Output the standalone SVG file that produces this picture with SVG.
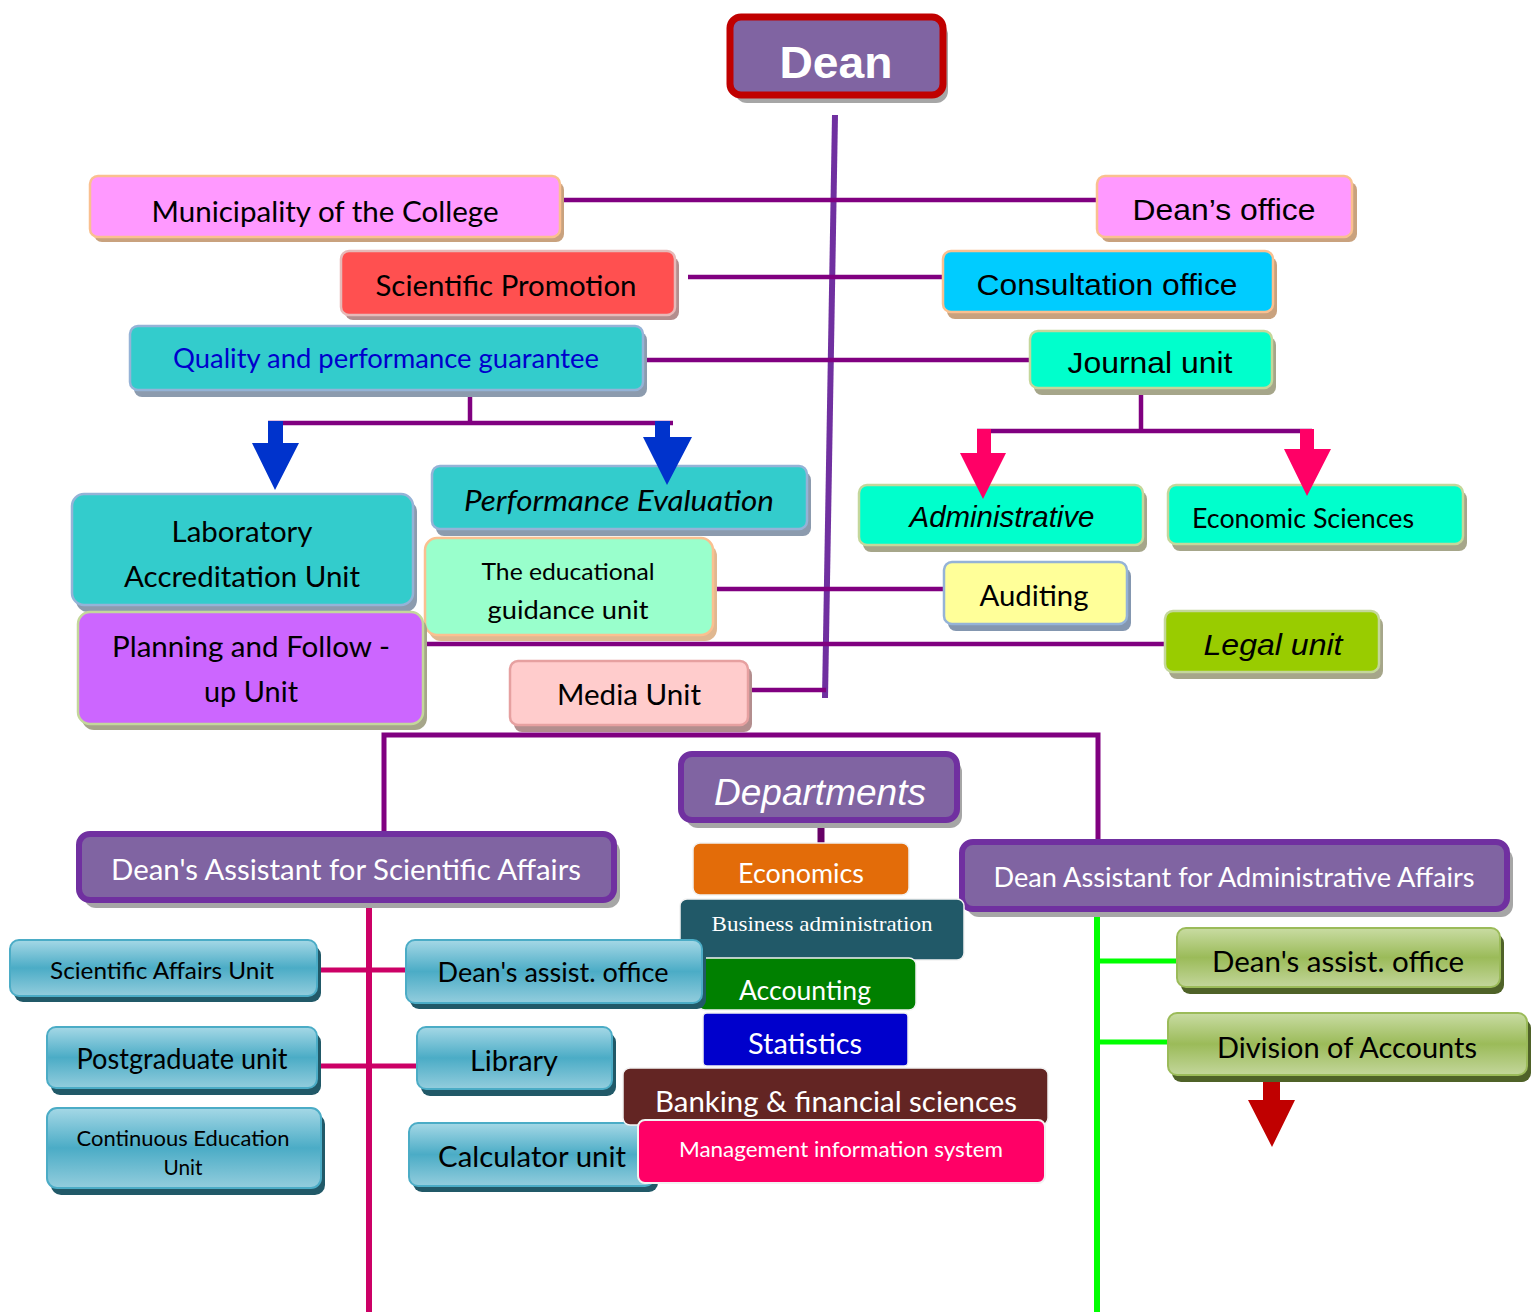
<svg xmlns="http://www.w3.org/2000/svg" width="1531" height="1312" viewBox="0 0 1531 1312">
<defs>
<linearGradient id="gBlue" x1="0" y1="0" x2="0" y2="1">
<stop offset="0" stop-color="#A5D8E6"/><stop offset="0.5" stop-color="#4BACC6"/><stop offset="1" stop-color="#93CDDD"/>
</linearGradient>
<linearGradient id="gGreen" x1="0" y1="0" x2="0" y2="1">
<stop offset="0" stop-color="#C9DCA3"/><stop offset="0.5" stop-color="#9BBB59"/><stop offset="1" stop-color="#C3D69B"/>
</linearGradient>
<style>
.t{font-family:Lato,"Open Sans","Liberation Sans",sans-serif;text-anchor:middle;fill:#000}
.a{font-family:"Liberation Sans",Arial,sans-serif;text-anchor:middle;fill:#000}
.s{font-family:"Liberation Serif","Times New Roman",serif;text-anchor:middle;fill:#fff}
.w{fill:#fff}
.c{stroke:#800080;stroke-width:4.5;fill:none}
.blue{fill:url(#gBlue);stroke:#4BACC6;stroke-width:2}
.bsh{fill:#215968}
.green{fill:url(#gGreen);stroke:#9BBB59;stroke-width:2}
.gsh{fill:#4F6228}
.pur{fill:#8064A2;stroke:#7030A0;stroke-width:6}
</style>
</defs>
<rect width="1531" height="1312" fill="#fff"/>

<g id="connectors">
<line x1="835" y1="115" x2="825" y2="698" stroke="#7030A0" stroke-width="6"/>
<line class="c" x1="562" y1="200" x2="1098" y2="200"/>
<line class="c" x1="688" y1="277" x2="944" y2="277"/>
<line class="c" x1="643" y1="360" x2="1031" y2="360"/>
<line class="c" x1="713" y1="589" x2="945" y2="589"/>
<line class="c" x1="425" y1="644" x2="1166" y2="644"/>
<line class="c" x1="750" y1="690" x2="826" y2="690"/>
<line class="c" x1="470" y1="391" x2="470" y2="423"/>
<line class="c" x1="268" y1="423" x2="673" y2="423"/>
<line class="c" x1="1141" y1="388" x2="1141" y2="431"/>
<line class="c" x1="977" y1="431" x2="1312" y2="431"/>
<polyline points="384,843 384,735 1098,735 1098,853" stroke="#800080" stroke-width="5" fill="none"/>
<line x1="821" y1="820" x2="821" y2="843" stroke="#660066" stroke-width="7"/>
<line x1="369" y1="904" x2="369" y2="1312" stroke="#CC0066" stroke-width="6"/>
<line x1="318" y1="970" x2="406" y2="970" stroke="#CC0066" stroke-width="5"/>
<line x1="318" y1="1066" x2="418" y2="1066" stroke="#CC0066" stroke-width="5"/>
<line x1="1097" y1="908" x2="1097" y2="1312" stroke="#00FF00" stroke-width="6"/>
<line x1="1097" y1="961" x2="1178" y2="961" stroke="#00FF00" stroke-width="5"/>
<line x1="1097" y1="1042" x2="1168" y2="1042" stroke="#00FF00" stroke-width="5"/>
<polygon points="1263,1082 1280,1082 1280,1100 1295,1100 1272,1147 1248,1100 1263,1100" fill="#C00000"/>
</g>

<g id="dean">
<rect x="735" y="23" width="213" height="80" rx="12" fill="#A6A6A6"/>
<rect x="730" y="17" width="213" height="78" rx="11" fill="#8064A2" stroke="#C00000" stroke-width="7"/>
<text class="a w" x="836" y="78" font-size="44" font-weight="bold" textLength="113" lengthAdjust="spacingAndGlyphs">Dean</text>
</g>

<g id="municipality">
<rect x="94" y="182" width="470" height="60" rx="8" fill="#C9A27E"/>
<rect x="90" y="176" width="470" height="61" rx="8" fill="#FF99FF" stroke="#FAC090" stroke-width="2.5"/>
<text class="t" x="325" y="222" font-size="28" textLength="347" lengthAdjust="spacingAndGlyphs">Municipality of the College</text>
</g>

<g id="deans-office">
<rect x="1101" y="182" width="256" height="60" rx="8" fill="#C9A27E"/>
<rect x="1097" y="176" width="255" height="61" rx="8" fill="#FF99FF" stroke="#FAC090" stroke-width="2.5"/>
<text class="a" x="1224" y="220" font-size="30" textLength="183" lengthAdjust="spacingAndGlyphs">Dean’s office</text>
</g>

<g id="sci-promotion">
<rect x="345" y="257" width="334" height="63" rx="8" fill="#B38E8E"/>
<rect x="341" y="251" width="334" height="64" rx="8" fill="#FF5050" stroke="#E6B9B8" stroke-width="2.5"/>
<text class="t" x="506" y="296" font-size="28" textLength="261" lengthAdjust="spacingAndGlyphs">Scientific Promotion</text>
</g>

<g id="consultation">
<rect x="947" y="257" width="330" height="62" rx="8" fill="#C9A27E"/>
<rect x="943" y="251" width="330" height="61" rx="8" fill="#00CCFF" stroke="#FAC090" stroke-width="2.5"/>
<text class="a" x="1107" y="295" font-size="30" textLength="261" lengthAdjust="spacingAndGlyphs">Consultation office</text>
</g>

<g id="quality">
<rect x="134" y="332" width="513" height="65" rx="8" fill="#8C9BAE"/>
<rect x="130" y="326" width="513" height="64" rx="8" fill="#33CCCC" stroke="#95B3D7" stroke-width="2.5"/>
<text class="t" x="386" y="368" font-size="26" style="fill:#0000CC" textLength="426" lengthAdjust="spacingAndGlyphs">Quality and performance guarantee</text>
</g>

<g id="journal">
<rect x="1034" y="337" width="242" height="58" rx="8" fill="#A6A68A"/>
<rect x="1030" y="331" width="242" height="57" rx="8" fill="#00FFCC" stroke="#C4D79B" stroke-width="2.5"/>
<text class="a" x="1150" y="373" font-size="30" textLength="165" lengthAdjust="spacingAndGlyphs">Journal unit</text>
</g>

<g id="lab-accreditation">
<rect x="76" y="500" width="341" height="112" rx="12" fill="#8C9BAE"/>
<rect x="72" y="494" width="341" height="111" rx="12" fill="#33CCCC" stroke="#95B3D7" stroke-width="2.5"/>
<text class="t" x="242" y="542" font-size="28" textLength="141" lengthAdjust="spacingAndGlyphs">Laboratory</text>
<text class="t" x="242" y="587" font-size="28" textLength="236" lengthAdjust="spacingAndGlyphs">Accreditation Unit</text>
</g>

<g id="performance-eval">
<rect x="436" y="472" width="375" height="64" rx="8" fill="#8C9BAE"/>
<rect x="432" y="466" width="375" height="63" rx="8" fill="#33CCCC" stroke="#95B3D7" stroke-width="2.5"/>
<text class="t" x="619" y="511" font-size="28" font-style="italic" textLength="310" lengthAdjust="spacingAndGlyphs">Performance Evaluation</text>
</g>

<g id="educational-guidance">
<rect x="429" y="544" width="288" height="97" rx="12" fill="#E0B890"/>
<rect x="425" y="538" width="288" height="97" rx="12" fill="#99FFCC" stroke="#FAC090" stroke-width="2.5"/>
<text class="t" x="568" y="580" font-size="23" textLength="173" lengthAdjust="spacingAndGlyphs">The educational</text>
<text class="t" x="568" y="619" font-size="25" textLength="161" lengthAdjust="spacingAndGlyphs">guidance unit</text>
</g>

<g id="planning">
<rect x="82" y="618" width="345" height="112" rx="12" fill="#A6A68A"/>
<rect x="78" y="612" width="345" height="112" rx="12" fill="#CC66FF" stroke="#C4D79B" stroke-width="2.5"/>
<text class="t" x="251" y="657" font-size="28" textLength="278" lengthAdjust="spacingAndGlyphs">Planning and Follow -</text>
<text class="t" x="251" y="702" font-size="28" textLength="94" lengthAdjust="spacingAndGlyphs">up Unit</text>
</g>

<g id="media">
<rect x="514" y="667" width="238" height="65" rx="8" fill="#B38E8E"/>
<rect x="510" y="661" width="238" height="64" rx="8" fill="#FFCCCC" stroke="#E6A0A0" stroke-width="2.5"/>
<text class="t" x="629" y="705" font-size="28" textLength="144" lengthAdjust="spacingAndGlyphs">Media Unit</text>
</g>

<g id="administrative">
<rect x="863" y="491" width="284" height="61" rx="8" fill="#A6A68A"/>
<rect x="859" y="485" width="284" height="60" rx="8" fill="#00FFCC" stroke="#C4D79B" stroke-width="2.5"/>
<text class="a" x="1002" y="527" font-size="30" font-style="italic" textLength="185" lengthAdjust="spacingAndGlyphs">Administrative</text>
</g>

<g id="economic-sciences">
<rect x="1172" y="491" width="295" height="60" rx="8" fill="#A6A68A"/>
<rect x="1168" y="485" width="295" height="59" rx="8" fill="#00FFCC" stroke="#C4D79B" stroke-width="2.5"/>
<text class="t" x="1303" y="528" font-size="26" textLength="222" lengthAdjust="spacingAndGlyphs">Economic Sciences</text>
</g>

<g id="auditing">
<rect x="948" y="568" width="183" height="63" rx="8" fill="#8497B0"/>
<rect x="944" y="562" width="183" height="62" rx="8" fill="#FFFF99" stroke="#95B3D7" stroke-width="2.5"/>
<text class="t" x="1034" y="606" font-size="28" textLength="109" lengthAdjust="spacingAndGlyphs">Auditing</text>
</g>

<g id="legal">
<rect x="1169" y="617" width="214" height="62" rx="8" fill="#A6A68A"/>
<rect x="1165" y="611" width="214" height="61" rx="8" fill="#99CC00" stroke="#C4D79B" stroke-width="2.5"/>
<text class="a" x="1273" y="655" font-size="30" font-style="italic" textLength="139" lengthAdjust="spacingAndGlyphs">Legal unit</text>
</g>

<g id="departments">
<rect x="686" y="760" width="276" height="68" rx="12" fill="#A6A6A6"/>
<rect class="pur" x="681" y="754" width="276" height="66" rx="11"/>
<text class="a w" x="820" y="805" font-size="36" font-style="italic" textLength="212" lengthAdjust="spacingAndGlyphs">Departments</text>
</g>

<g id="sci-assistant">
<rect x="84" y="840" width="536" height="68" rx="12" fill="#A6A6A6"/>
<rect class="pur" x="79" y="834" width="535" height="66" rx="11"/>
<text class="t" x="346" y="880" font-size="28" style="fill:#fff" textLength="470" lengthAdjust="spacingAndGlyphs">Dean's Assistant for Scientific Affairs</text>
</g>

<g id="admin-assistant">
<rect x="967" y="848" width="546" height="69" rx="12" fill="#A6A6A6"/>
<rect class="pur" x="962" y="842" width="545" height="67" rx="11"/>
<text class="t" x="1234" y="887" font-size="27" style="fill:#fff" textLength="481" lengthAdjust="spacingAndGlyphs">Dean Assistant for Administrative Affairs</text>
</g>

<g id="economics">
<rect x="693" y="843" width="216" height="52" rx="7" fill="#E36C09" stroke="#F2F2F2" stroke-width="1.5"/>
<text class="t" x="801" y="883" font-size="26" style="fill:#fff" textLength="126" lengthAdjust="spacingAndGlyphs">Economics</text>
</g>

<g id="business-admin">
<rect x="680" y="899" width="284" height="61" rx="7" fill="#215968" stroke="#F2F2F2" stroke-width="1.5"/>
<text class="s" x="822" y="931" font-size="21" textLength="221" lengthAdjust="spacingAndGlyphs">Business administration</text>
</g>

<g id="accounting">
<rect x="698" y="958" width="218" height="52" rx="7" fill="#008000" stroke="#F2F2F2" stroke-width="1.5"/>
<text class="t" x="805" y="1000" font-size="26" style="fill:#fff" textLength="132" lengthAdjust="spacingAndGlyphs">Accounting</text>
</g>

<g id="statistics">
<rect x="703" y="1013" width="205" height="53" rx="4" fill="#0000CC" stroke="#F2F2F2" stroke-width="1.5"/>
<text class="t" x="805" y="1054" font-size="28" style="fill:#fff" textLength="114" lengthAdjust="spacingAndGlyphs">Statistics</text>
</g>

<g id="sci-affairs-unit">
<rect x="14" y="946" width="307" height="56" rx="9" class="bsh"/>
<rect x="10" y="940" width="307" height="56" rx="9" class="blue"/>
<text class="t" x="162" y="979" font-size="24" textLength="224" lengthAdjust="spacingAndGlyphs">Scientific Affairs Unit</text>
</g>

<g id="sci-deans-assist-office">
<rect x="410" y="946" width="296" height="63" rx="9" class="bsh"/>
<rect x="406" y="940" width="296" height="63" rx="9" class="blue"/>
<text class="t" x="553" y="982" font-size="27" textLength="231" lengthAdjust="spacingAndGlyphs">Dean's assist. office</text>
</g>

<g id="postgraduate">
<rect x="51" y="1033" width="270" height="62" rx="9" class="bsh"/>
<rect x="47" y="1027" width="270" height="61" rx="9" class="blue"/>
<text class="t" x="182" y="1069" font-size="28" textLength="211" lengthAdjust="spacingAndGlyphs">Postgraduate unit</text>
</g>

<g id="library">
<rect x="421" y="1033" width="195" height="63" rx="9" class="bsh"/>
<rect x="417" y="1027" width="195" height="62" rx="9" class="blue"/>
<text class="t" x="514" y="1071" font-size="28" textLength="88" lengthAdjust="spacingAndGlyphs">Library</text>
</g>

<g id="continuous-education">
<rect x="51" y="1114" width="274" height="81" rx="10" class="bsh"/>
<rect x="47" y="1108" width="274" height="80" rx="10" class="blue"/>
<text class="t" x="183" y="1146" font-size="21" textLength="213" lengthAdjust="spacingAndGlyphs">Continuous Education</text>
<text class="t" x="183" y="1175" font-size="21" textLength="39" lengthAdjust="spacingAndGlyphs">Unit</text>
</g>

<g id="calculator">
<rect x="413" y="1129" width="245" height="63" rx="9" class="bsh"/>
<rect x="409" y="1123" width="245" height="63" rx="9" class="blue"/>
<text class="t" x="532" y="1167" font-size="28" textLength="188" lengthAdjust="spacingAndGlyphs">Calculator unit</text>
</g>

<g id="banking">
<rect x="623" y="1068" width="425" height="57" rx="7" fill="#632523" stroke="#F2F2F2" stroke-width="1.5"/>
<text class="t" x="836" y="1112" font-size="28" style="fill:#fff" textLength="362" lengthAdjust="spacingAndGlyphs">Banking &amp; financial sciences</text>
</g>

<g id="mis">
<rect x="638" y="1120" width="407" height="63" rx="7" fill="#FF0066" stroke="#F2F2F2" stroke-width="2"/>
<text class="t" x="841" y="1157" font-size="21" style="fill:#fff" textLength="324" lengthAdjust="spacingAndGlyphs">Management information system</text>
</g>

<g id="adm-deans-assist-office">
<rect x="1181" y="934" width="323" height="60" rx="9" class="gsh"/>
<rect x="1177" y="928" width="323" height="59" rx="9" class="green"/>
<text class="t" x="1338" y="972" font-size="28" textLength="252" lengthAdjust="spacingAndGlyphs">Dean's assist. office</text>
</g>

<g id="division-accounts">
<rect x="1172" y="1019" width="359" height="63" rx="9" class="gsh"/>
<rect x="1168" y="1013" width="359" height="62" rx="9" class="green"/>
<text class="t" x="1347" y="1058" font-size="28" textLength="260" lengthAdjust="spacingAndGlyphs">Division of Accounts</text>
</g>

<g id="arrows">
<polygon points="268,421 283,421 283,443 299,443 275,490 252,443 268,443" fill="#0033CC"/>
<polygon points="655,421 670,421 670,437 692,437 667,485 643,437 655,437" fill="#0033CC"/>
<polygon points="977,429 991,429 991,453 1006,453 983,499 960,453 977,453" fill="#FF0066"/>
<polygon points="1300,429 1314,429 1314,449 1331,449 1307,496 1284,449 1300,449" fill="#FF0066"/>
</g>
</svg>
